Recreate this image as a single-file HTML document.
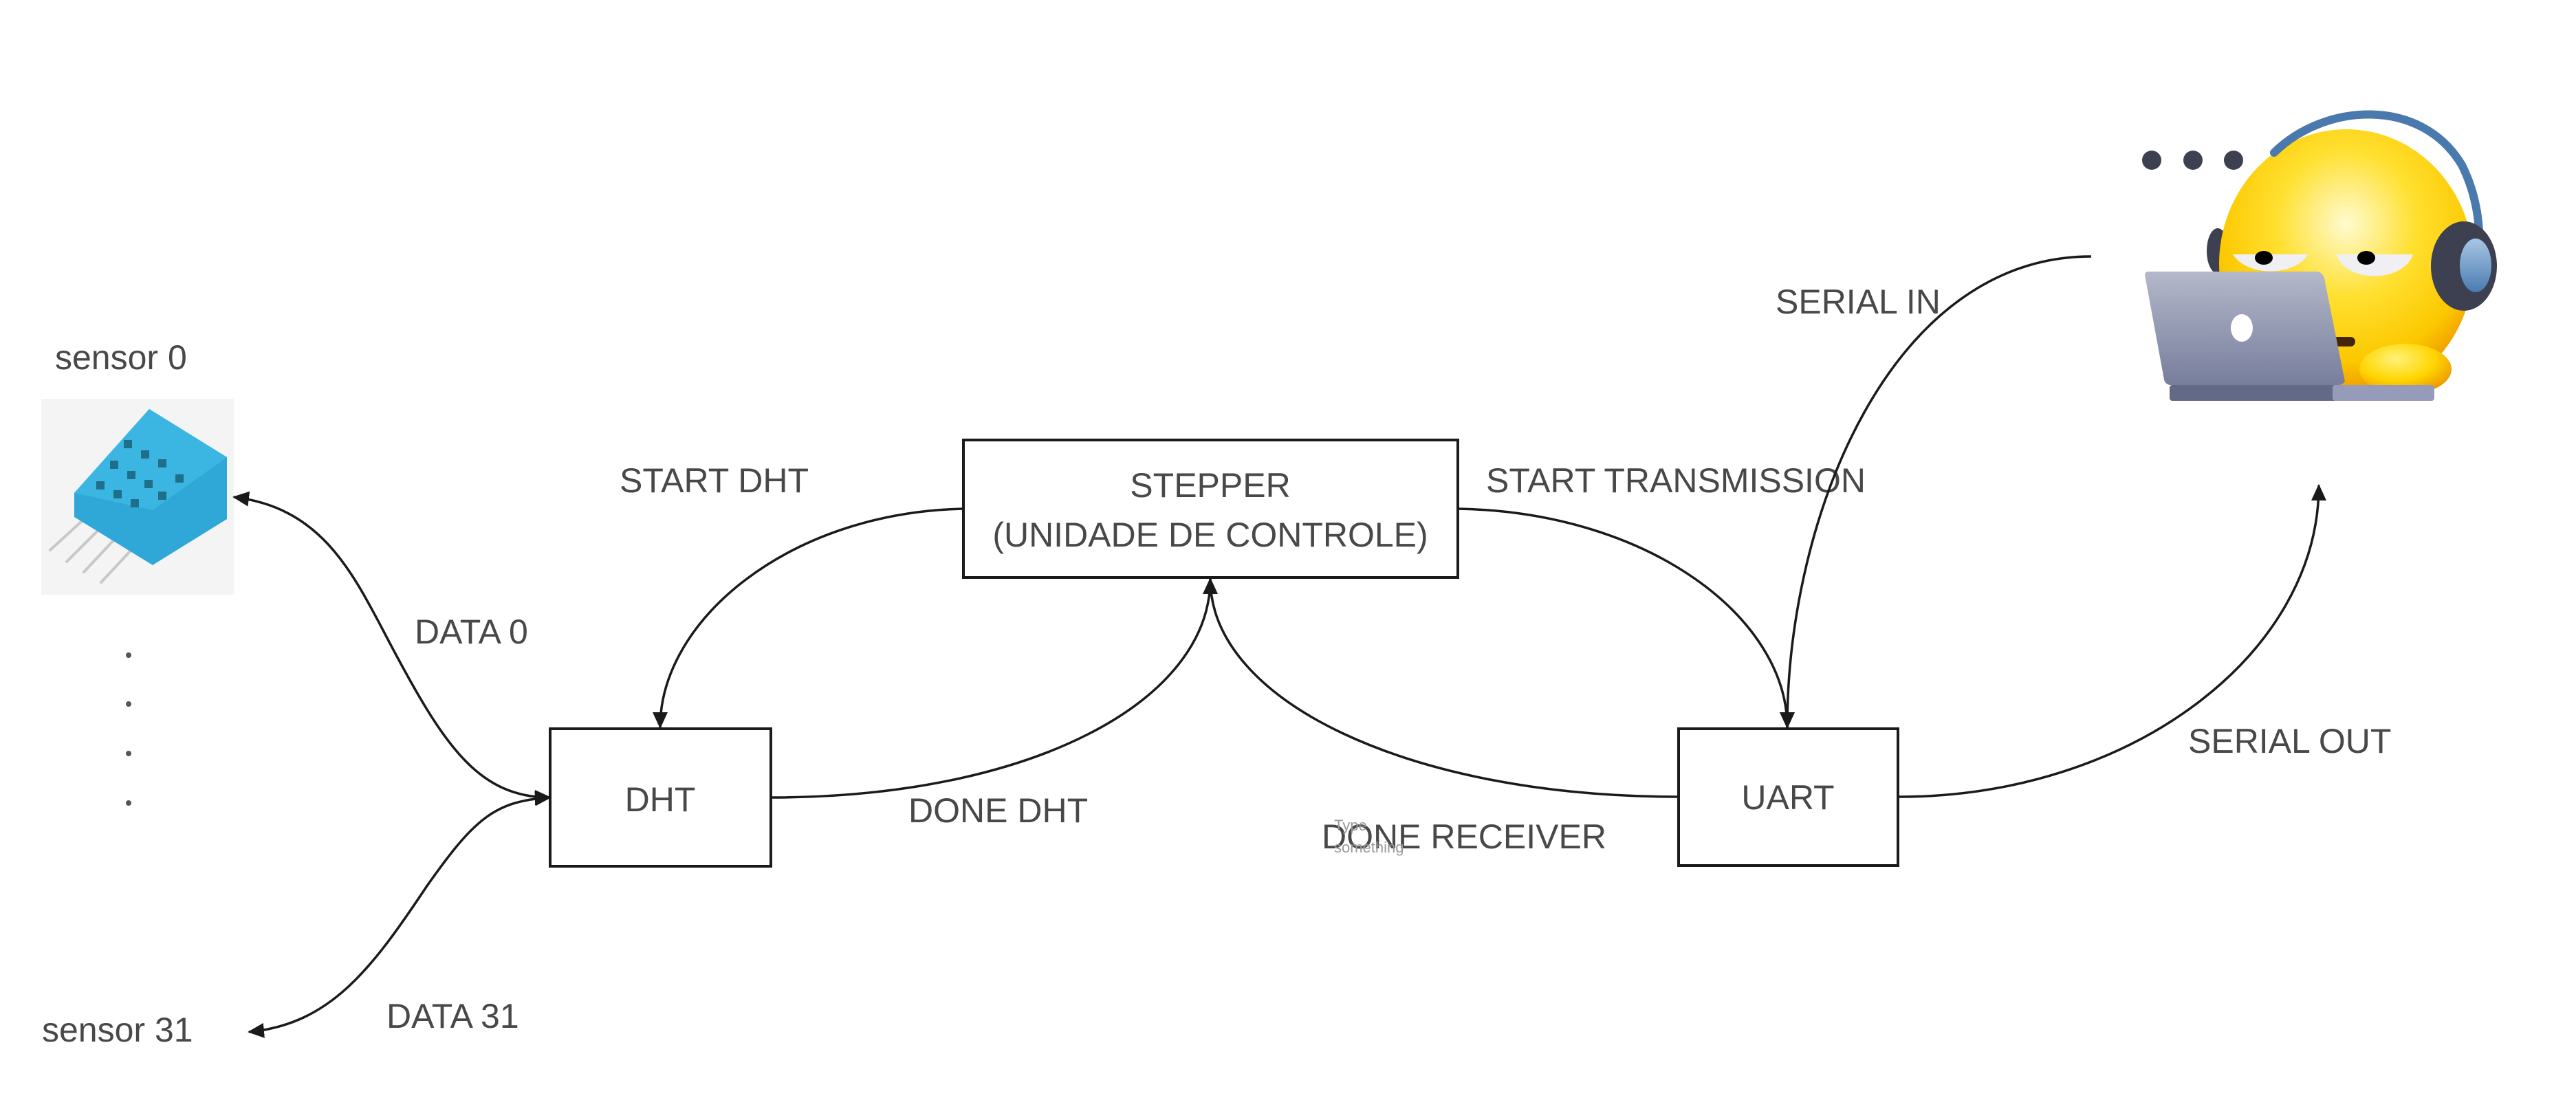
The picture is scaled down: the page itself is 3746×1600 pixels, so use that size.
<!DOCTYPE html>
<html><head><meta charset="utf-8"><style>
html,body{margin:0;padding:0;background:#fff;}
svg{display:block;}
text{font-family:"Liberation Sans",sans-serif;fill:#484848;font-size:50px;}
</style></head><body>
<svg width="3746" height="1600" viewBox="0 0 3746 1600" xmlns="http://www.w3.org/2000/svg">
<defs>
<marker id="a2" markerWidth="24" markerHeight="24" refX="22" refY="12" orient="auto-start-reverse" markerUnits="userSpaceOnUse">
<path d="M0,1 L24,12 L0,23 Z" fill="#1a1a1a"/>
</marker>
<radialGradient id="face" cx="0.5" cy="0.35" r="0.68">
<stop offset="0" stop-color="#fffbd0"/><stop offset="0.4" stop-color="#ffe030"/><stop offset="0.75" stop-color="#fcc800"/><stop offset="1" stop-color="#ea8600"/>
</radialGradient>
<linearGradient id="scr" x1="0" y1="0" x2="0" y2="1"><stop offset="0" stop-color="#b4b8ca"/><stop offset="1" stop-color="#777e9c"/></linearGradient>
<linearGradient id="cup" x1="0" y1="0" x2="0" y2="1"><stop offset="0" stop-color="#a8c6e6"/><stop offset="1" stop-color="#4a7cb0"/></linearGradient>
<radialGradient id="hand" cx="0.4" cy="0.3" r="0.7"><stop offset="0" stop-color="#fff27a"/><stop offset="0.6" stop-color="#ffd500"/><stop offset="1" stop-color="#ee9a00"/></radialGradient>
</defs>

<text x="80" y="537">sensor 0</text>
<text x="61" y="1515">sensor 31</text>
<text x="603" y="936">DATA 0</text>
<text x="562" y="1495">DATA 31</text>
<text x="901" y="716">START DHT</text>
<text x="1321" y="1196">DONE DHT</text>
<text x="2161" y="716">START TRANSMISSION</text>
<text x="1922" y="1234">DONE RECEIVER</text>
<text x="2582" y="456">SERIAL IN</text>
<text x="3182" y="1095">SERIAL OUT</text>
<text x="1940" y="1208" style="font-size:22px;fill:#9a9a9a">Type</text>
<text x="1940" y="1240" style="font-size:22px;fill:#9a9a9a">something</text>

<circle cx="187" cy="953" r="4" fill="#555"/>
<circle cx="187" cy="1024" r="4" fill="#555"/>
<circle cx="187" cy="1096" r="4" fill="#555"/>
<circle cx="187" cy="1168" r="4" fill="#555"/>

<rect x="60" y="580" width="280" height="285" fill="#f4f4f4"/>
<g stroke="#c8c8c8" stroke-width="4" stroke-linecap="round">
<line x1="130" y1="748" x2="73" y2="800"/><line x1="157" y1="757" x2="97" y2="817"/>
<line x1="180" y1="770" x2="122" y2="832"/><line x1="203" y1="787" x2="147" y2="847"/>
</g>
<polygon points="108,717 217,595 330,665 330,755 222,822 108,752" fill="#2fa8d8"/>
<polygon points="108,717 217,595 330,665 222,742" fill="#3bb6e3"/>
<g fill="#1f6f8a">
<rect x="180" y="640" width="12" height="12"/><rect x="205" y="655" width="12" height="12"/><rect x="230" y="668" width="12" height="12"/>
<rect x="160" y="670" width="12" height="12"/><rect x="185" y="685" width="12" height="12"/><rect x="210" y="698" width="12" height="12"/>
<rect x="140" y="700" width="12" height="12"/><rect x="165" y="713" width="12" height="12"/><rect x="190" y="726" width="12" height="12"/>
<rect x="255" y="690" width="12" height="12"/><rect x="230" y="715" width="12" height="12"/>
</g>

<rect x="800" y="1060" width="321" height="200" fill="#fff" stroke="#1a1a1a" stroke-width="4"/>
<text x="960" y="1180" text-anchor="middle">DHT</text>
<rect x="1401" y="640" width="719" height="200" fill="#fff" stroke="#1a1a1a" stroke-width="4"/>
<text x="1760" y="723" text-anchor="middle">STEPPER</text>
<text x="1760" y="795" text-anchor="middle">(UNIDADE DE CONTROLE)</text>
<rect x="2441" y="1060" width="319" height="199" fill="#fff" stroke="#1a1a1a" stroke-width="4"/>
<text x="2600" y="1177" text-anchor="middle">UART</text>

<g fill="none" stroke="#1a1a1a" stroke-width="3.5">
<path d="M800,1160 C700,1160 650,1090 580,960 C520,850 480,740 340,723" marker-start="url(#a2)" marker-end="url(#a2)"/>
<path d="M800,1160 C720,1165 690,1190 620,1290 C540,1410 480,1490 362,1501" marker-start="url(#a2)" marker-end="url(#a2)"/>
<path d="M1401,740 C1150,745 960,900 960,1058" marker-end="url(#a2)"/>
<path d="M1121,1160 C1500,1160 1760,1020 1760,842" marker-end="url(#a2)"/>
<path d="M2441,1159 C2050,1159 1760,1020 1760,842"/>
<path d="M2120,740 C2400,745 2599,900 2599,1058" marker-end="url(#a2)"/>
<path d="M3041,373 C2750,373 2599,750 2599,1058" marker-end="url(#a2)"/>
<path d="M2761,1159 C3100,1159 3372,950 3372,706" marker-end="url(#a2)"/>
</g>

<circle cx="3129" cy="233" r="14" fill="#3d4050"/>
<circle cx="3189" cy="233" r="14" fill="#3d4050"/>
<circle cx="3248" cy="233" r="14" fill="#3d4050"/>
<ellipse cx="3225" cy="365" rx="16" ry="33" fill="#3d4050"/>
<ellipse cx="3412" cy="384" rx="185" ry="196" fill="url(#face)"/>
<path d="M3307,222 C3380,150 3520,140 3580,240 C3605,290 3608,340 3605,390" fill="none" stroke="#4a7aad" stroke-width="12" stroke-linecap="round"/>
<path d="M3247,370 L3356,370 C3340,400 3270,405 3247,370 Z" fill="#f0f0f4"/>
<path d="M3398,370 L3509,370 C3495,412 3410,412 3398,370 Z" fill="#f0f0f4"/>
<ellipse cx="3292" cy="375" rx="13" ry="10" fill="#000"/>
<ellipse cx="3441" cy="375" rx="13" ry="10" fill="#000"/>
<ellipse cx="3583" cy="387" rx="48" ry="65" fill="#3d4050"/>
<ellipse cx="3600" cy="386" rx="23" ry="39" fill="url(#cup)"/>
<line x1="3399" y1="497" x2="3418" y2="497" stroke="#45250a" stroke-width="14" stroke-linecap="round"/>
<ellipse cx="3498" cy="537" rx="67" ry="37" fill="url(#hand)"/>
<path d="M3124,395 L3370,395 Q3378,397 3380,405 L3410,555 Q3406,560 3400,560 L3155,560 Q3148,558 3147,552 L3119,400 Q3119,395 3124,395 Z" fill="url(#scr)"/>
<ellipse cx="3260" cy="477" rx="16" ry="20" fill="#fff"/>
<rect x="3155" y="560" width="245" height="23" rx="4" fill="#626a88"/>
<rect x="3392" y="560" width="148" height="23" rx="4" fill="#959bb8"/>
</svg>
</body></html>
